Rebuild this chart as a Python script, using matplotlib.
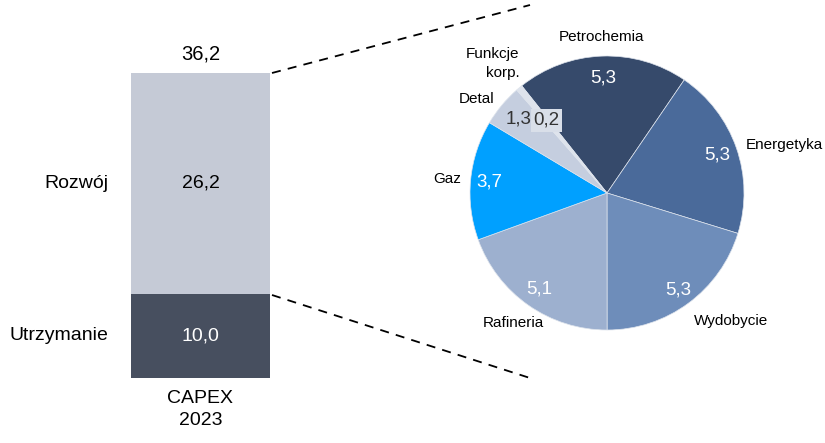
import numpy as np
import matplotlib
matplotlib.use("Agg")
import matplotlib.pyplot as plt
from matplotlib.lines import Line2D

plt.rcParams['font.family'] = ['Liberation Sans', 'DejaVu Sans']

# ---- data ----
bar_category = "CAPEX\n2023"
bar_segments = ["Utrzymanie", "Rozwój"]
bar_values = [10.0, 26.2]
bar_total = 36.2

pie_labels = ["Petrochemia", "Energetyka", "Wydobycie", "Rafineria", "Gaz", "Detal", "Funkcje\nkorp."]
pie_values = [5.3, 5.3, 5.3, 5.1, 3.7, 1.3, 0.2]

bar_colors = ["#474F5F", "#C5CAD6"]
pie_colors = ["#364A6B", "#4A6A9A", "#6E8DBA", "#9DB0CF", "#00A0FF", "#C5CEDF", "#DEE3EC"]

def fmt(v):
    return f"{v:.1f}".replace('.', ',')

W, H = 825, 443
fig = plt.figure(figsize=(W / 100, H / 100), dpi=100)

# ---- bar ----
bx0, bx1, btop, bbot = 131, 270, 73, 378
axb = fig.add_axes([bx0 / W, (H - bbot) / H, (bx1 - bx0) / W, (bbot - btop) / H])
bottom = 0
for seg, v, c in zip(bar_segments, bar_values, bar_colors):
    axb.bar(0, v, width=1.0, bottom=bottom, color=c, edgecolor='none')
    txt_col = 'white' if c == bar_colors[0] else 'black'
    axb.text(0, bottom + v / 2, fmt(v), ha='center', va='center', fontsize=14, color=txt_col)
    axb.text(-0.66, bottom + v / 2, seg, ha='right', va='center', fontsize=14, color='black')
    bottom += v
axb.text(0, bar_total + 1.1, fmt(bar_total), ha='center', va='bottom', fontsize=14.5)
axb.text(0, -1.4, bar_category, ha='center', va='top', fontsize=14, linespacing=1.4)
axb.set_xlim(-0.5, 0.5)
axb.set_ylim(0, bar_total)
axb.axis('off')

# ---- pie ----
cx, cy, r = 607, 193, 137
axp = fig.add_axes([(cx - r) / W, (H - cy - r) / H, 2 * r / W, 2 * r / H])
start = 90 + 38.5
wedges, _ = axp.pie(pie_values, colors=pie_colors, startangle=start, counterclock=False,
                    radius=1.0, wedgeprops=dict(edgecolor='#DDE3EC', linewidth=0.5))
axp.set_xlim(-1, 1)
axp.set_ylim(-1, 1)
axp.set_aspect('equal')
axp.axis('off')

# label placement settings: (outer radius, ha, va, offset pts, value radius)
lab_cfg = [
    (1.09, 'center', 'bottom', (0, 0), 0.84),
    (1.07, 'left', 'center', (0, 0), 0.85),
    (1.1, 'left', 'top', (-2, 0), 0.88),
    (1.16, 'center', 'center', (-2, 0), 0.86),
    (1.07, 'right', 'center', (0, 0), 0.86),
    (1.07, 'right', 'center', (0, 0), 0.84),
    (1.0, 'right', 'bottom', (0, 6), 0.69),
]
for w, lab, v, c, cfg in zip(wedges, pie_labels, pie_values, pie_colors, lab_cfg):
    ang = np.deg2rad((w.theta1 + w.theta2) / 2)
    ro, ha, va, off, rv = cfg
    axp.annotate(lab, (ro * np.cos(ang), ro * np.sin(ang)), xytext=off,
                 textcoords='offset points', ha=ha, va=va, fontsize=11,
                 multialignment='right', linespacing=1.45, annotation_clip=False)
    dark = c in ("#364A6B", "#4A6A9A", "#6E8DBA", "#9DB0CF", "#00A0FF")
    tcol = 'white' if dark else '#333333'
    kw = {}
    if v < 1:
        kw['bbox'] = dict(boxstyle='square,pad=0.15', fc='#D9DFE9', ec='none')
    axp.text(rv * np.cos(ang), rv * np.sin(ang), fmt(v), ha='center', va='center',
             fontsize=13.5, color=tcol, **kw)

# ---- dashed connectors ----
def px(x, y):
    return x / W, 1 - y / H

for (x0, y0), (x1, y1) in [((bx1 + 2, btop), (530, 5)), ((bx1 + 2, 295), (530, 378))]:
    a = px(x0, y0); b = px(x1, y1)
    fig.add_artist(Line2D([a[0], b[0]], [a[1], b[1]], transform=fig.transFigure,
                          color='black', lw=1.3, dashes=(5, 4)))

fig.savefig("out.png", dpi=100)
